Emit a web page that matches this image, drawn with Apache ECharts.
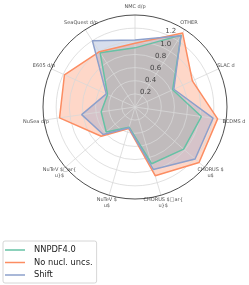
<!DOCTYPE html>
<html><head><meta charset="utf-8">
<script src="https://cdn.jsdelivr.net/npm/echarts@6/dist/echarts.min.js"></script>
<style>html,body{margin:0;padding:0;background:#fff}#c{width:249px;height:285px}</style>
</head><body><div id="c"></div>
<script>
var categories = ['NMC d/p', 'OTHER', 'SLAC d', 'BCDMS d', 'CHORUS $\nu$', 'CHORUS $\u25a1ar{\nu}$',
  'NuTeV $\nu$', 'NuTeV $\u25a1ar{\nu}$', 'NuSea d/p', 'E605 d/p', 'SeaQuest d/p'];
var seriesNames = ['NNPDF4.0', 'No nucl. uncs.', 'Shift'];
var nnpdf  = [0.90, 1.30, 0.63, 1.02, 0.98, 0.90, 0.32, 0.58, 0.52, 0.46, 0.98];
var nonucl = [0.97, 1.34, 0.96, 1.27, 1.29, 1.09, 0.34, 0.68, 1.16, 1.18, 1.00];
var shift  = [1.02, 1.29, 0.65, 1.20, 1.21, 0.99, 0.33, 0.64, 0.82, 0.48, 1.20];
var radialTicks = [0.2, 0.4, 0.6, 0.8, 1.0, 1.2];
var colors = ['#66c2a5', '#fc8d62', '#8da0cb'];

var CX = 135, CY = 107, R = 92, RMAX = 1.4;
function toPolar(vals) {
  var d = vals.map(function (v, i) { return [v, i]; });
  d.push([vals[0], vals.length]);
  return d;
}
var allVals = [nnpdf, nonucl, shift];
var series = [];
allVals.forEach(function (vals, k) {
  series.push({
    name: seriesNames[k], type: 'line', coordinateSystem: 'polar', polarIndex: 0,
    data: toPolar(vals), symbol: 'none', z: 2, silent: true,
    lineStyle: { width: 0, color: colors[k] }, itemStyle: { color: colors[k] },
    areaStyle: { color: colors[k], opacity: 0.35 }
  });
});
allVals.forEach(function (vals, k) {
  series.push({
    name: seriesNames[k], type: 'line', coordinateSystem: 'polar', polarIndex: 0,
    data: toPolar(vals), symbol: 'none', z: 5, silent: true,
    lineStyle: { width: 1.5, color: colors[k] }, itemStyle: { color: colors[k] }
  });
});
// category labels, centred just outside the outer circle
series.push({
  type: 'scatter', coordinateSystem: 'polar', polarIndex: 1, clip: false, silent: true, z: 6,
  symbolSize: 1, itemStyle: { color: 'rgba(0,0,0,0)' },
  data: categories.map(function (c, i) { return [1, i]; }),
  label: { show: true, position: 'inside', align: 'center', verticalAlign: 'middle',
    fontSize: 5, lineHeight: 6, color: '#222', fontFamily: 'DejaVu Sans',
    formatter: function (p) { return categories[p.dataIndex]; } }
});
// radial tick labels at 22.5 degrees, anchored bottom-left
series.push({
  type: 'scatter', coordinateSystem: 'polar', polarIndex: 2, clip: false, silent: true, z: 6,
  symbolSize: 1, itemStyle: { color: 'rgba(0,0,0,0)' },
  data: radialTicks.map(function (v) { return [v, 0]; }),
  label: { show: true, position: 'inside', align: 'left', verticalAlign: 'bottom',
    fontSize: 7, color: '#222', fontFamily: 'DejaVu Sans', offset: [0, 1],
    formatter: function (p) { return radialTicks[p.dataIndex].toFixed(1); } }
});
var gridColors = ['#d8d8d8','#d8d8d8','#d8d8d8','#d8d8d8','#d8d8d8','#d8d8d8','#d8d8d8','rgba(0,0,0,0)'];
var hiddenAxis = { axisLine: { show: false }, axisTick: { show: false }, splitLine: { show: false }, axisLabel: { show: false } };
var chart = echarts.init(document.getElementById('c'), null, { renderer: 'canvas' });
chart.setOption({
  animation: false,
  textStyle: { fontFamily: 'DejaVu Sans' },
  polar: [
    { center: [CX, CY], radius: R },
    { center: [CX, CY], radius: 100 },
    { center: [CX, CY], radius: R }
  ],
  angleAxis: [
    Object.assign({ polarIndex: 0, type: 'value', min: 0, max: categories.length, interval: 1, startAngle: 90, clockwise: true, z: 3 }, {
      axisLine: { show: true, lineStyle: { color: '#222', width: 0.8 } },
      axisTick: { show: false },
      splitLine: { show: true, lineStyle: { color: '#d8d8d8', width: 0.8 } },
      axisLabel: { show: false } }),
    Object.assign({ polarIndex: 1, type: 'value', min: 0, max: categories.length, interval: 1, startAngle: 90, clockwise: true }, hiddenAxis),
    Object.assign({ polarIndex: 2, type: 'value', min: 0, max: 1, startAngle: 67.5, clockwise: true }, hiddenAxis)
  ],
  radiusAxis: [
    { polarIndex: 0, type: 'value', min: 0, max: RMAX, interval: 0.2, z: 3,
      axisLine: { show: false }, axisTick: { show: false }, axisLabel: { show: false },
      splitLine: { show: true, lineStyle: { color: gridColors, width: 0.8 } } },
    Object.assign({ polarIndex: 1, type: 'value', min: 0, max: 1 }, hiddenAxis),
    Object.assign({ polarIndex: 2, type: 'value', min: 0, max: RMAX }, hiddenAxis)
  ],
  legend: {
    orient: 'vertical', left: 3, top: 241, data: seriesNames,
    icon: 'rect', itemWidth: 20, itemHeight: 1.5, itemGap: 4.5,
    padding: [5, 4, 4, 2], borderColor: '#cccccc', borderWidth: 0.8, borderRadius: 2,
    backgroundColor: '#fff',
    textStyle: { fontSize: 8.3, color: '#222', padding: [0, 0, 0, 4] }
  },
  series: series
});
</script></body></html>
